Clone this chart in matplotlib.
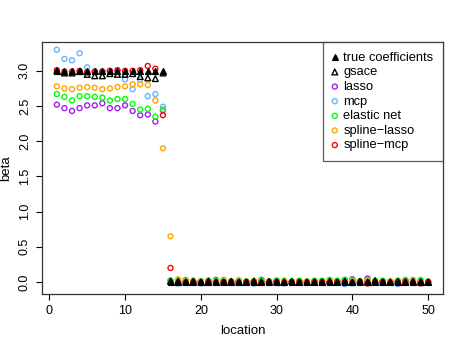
import numpy as np
import matplotlib
matplotlib.use("Agg")
import matplotlib.pyplot as plt

plt.rcParams['font.family'] = ['Liberation Sans', 'DejaVu Sans']

location = np.arange(1, 51)

true_coef = [3.0, 3.0, 3.0, 3.0, 3.0, 3.0, 3.0, 3.0, 3.0, 3.0, 3.0, 3.0, 3.0, 3.0, 3.0,
             0.0, 0.0, 0.0, 0.0, 0.0, 0.0, 0.0, 0.0, 0.0, 0.0, 0.0, 0.0, 0.0, 0.0, 0.0,
             0.0, 0.0, 0.0, 0.0, 0.0, 0.0, 0.0, 0.0, 0.0, 0.0, 0.0, 0.0, 0.0, 0.0, 0.0,
             0.0, 0.0, 0.0, 0.0, 0.0]
gsace = [3.00, 2.97, 2.97, 2.99, 2.95, 2.93, 2.93, 2.96, 2.95, 2.95, 2.96, 2.92, 2.90, 2.89, 2.97,
         0.01, 0.01, 0.00, 0.01, 0.00, 0.01, 0.00, 0.00, 0.01, 0.00, 0.00, 0.01, 0.00, 0.01, 0.00,
         0.00, 0.01, 0.00, 0.00, 0.00, 0.00, 0.01, 0.00, 0.01, 0.00, 0.01, 0.00, 0.02, 0.00, 0.00,
         0.01, 0.00, 0.01, 0.00, 0.00]
lasso = [2.52, 2.47, 2.43, 2.47, 2.51, 2.51, 2.54, 2.47, 2.47, 2.51, 2.43, 2.37, 2.38, 2.28, 2.44,
         0.02, 0.01, 0.02, 0.00, 0.01, 0.02, 0.03, 0.00, 0.01, 0.02, 0.00, 0.01, 0.03, 0.00, 0.02,
         0.01, 0.00, 0.01, 0.00, 0.01, 0.00, 0.02, 0.01, 0.03, 0.04, 0.01, 0.05, 0.00, 0.01, 0.00,
         0.01, 0.02, 0.00, 0.01, 0.00]
mcp = [3.30, 3.17, 3.15, 3.25, 3.05, 2.99, 2.99, 3.00, 3.00, 2.88, 2.74, 2.88, 2.64, 2.67, 2.49,
       0.00, -0.02, 0.00, 0.00, -0.02, 0.00, 0.00, -0.01, 0.00, 0.00, 0.00, -0.02, 0.00, 0.00, 0.00,
       -0.02, 0.00, 0.00, 0.00, 0.00, 0.00, -0.01, 0.00, -0.03, -0.02, 0.00, 0.00, 0.00, 0.00, 0.00,
       -0.03, 0.00, 0.03, 0.00, 0.00]
enet = [2.67, 2.63, 2.58, 2.64, 2.64, 2.63, 2.62, 2.58, 2.60, 2.60, 2.53, 2.45, 2.46, 2.35, 2.45,
        0.02, 0.02, 0.03, 0.02, 0.01, 0.02, 0.02, 0.03, 0.01, 0.02, 0.01, 0.02, 0.02, 0.01, 0.02,
        0.02, 0.01, 0.02, 0.01, 0.02, 0.02, 0.03, 0.02, 0.03, 0.03, 0.01, 0.03, 0.02, 0.02, 0.01,
        0.02, 0.03, 0.02, 0.03, 0.01]
spline_lasso = [2.78, 2.75, 2.74, 2.76, 2.77, 2.76, 2.74, 2.75, 2.77, 2.78, 2.81, 2.81, 2.80, 2.58, 1.90,
                0.65, 0.04, 0.01, 0.01, 0.00, 0.01, 0.00, 0.01, 0.00, 0.01, 0.00, 0.01, 0.00, 0.01, 0.00,
                0.01, 0.00, 0.00, 0.01, 0.00, 0.00, 0.01, 0.00, 0.00, 0.01, 0.00, 0.02, 0.00, 0.00, 0.01,
                0.00, 0.00, 0.02, 0.00, 0.00]
spline_mcp = [3.01, 2.99, 2.99, 3.00, 2.98, 2.99, 2.99, 3.00, 3.01, 3.00, 3.00, 3.01, 3.07, 3.03, 2.37,
              0.20, -0.01, -0.01, 0.00, -0.01, 0.00, -0.01, 0.00, 0.00, -0.01, 0.00, 0.00, -0.01, 0.00, 0.00,
              -0.01, 0.00, 0.00, -0.01, 0.00, 0.00, -0.01, 0.00, 0.00, -0.01, 0.00, -0.02, 0.00, 0.00, -0.01,
              0.00, 0.00, -0.01, -0.02, 0.00]

fig = plt.figure(figsize=(4.65, 3.46), dpi=100)
ax = fig.add_axes([42 / 465, 52 / 346, 401 / 465, 252 / 346])

circ = dict(marker='o', s=13, facecolors='none', linewidths=1.0)
ax.scatter(location, lasso, edgecolors='#A020F0', label='lasso', **circ)
ax.scatter(location, mcp, edgecolors='#63B8FF', label='mcp', **circ)
ax.scatter(location, enet, edgecolors='#00FF00', label='elastic net', **circ)
ax.scatter(location, spline_lasso, edgecolors='#FFA500', label='spline\u2212lasso', **circ)
ax.scatter(location, spline_mcp, edgecolors='#FF0000', label='spline\u2212mcp', **circ)
ax.scatter(location, gsace, marker='^', s=17, facecolors='none', edgecolors='black',
           linewidths=1.0, label='gsace')
ax.scatter(location, true_coef, marker='^', s=17, color='black', label='true coefficients')

ax.set_xlim(-0.96, 51.96)
ax.set_ylim(-0.17, 3.41)
ax.set_xticks([0, 10, 20, 30, 40, 50])
ax.set_yticks([0.0, 0.5, 1.0, 1.5, 2.0, 2.5, 3.0])
ax.set_yticklabels(['0.0', '0.5', '1.0', '1.5', '2.0', '2.5', '3.0'], rotation=90, va='center')
ax.tick_params(labelsize=9.0, length=4, width=0.8)
ax.tick_params(axis='y', pad=4)
ax.tick_params(axis='x', pad=4)
for sp in ax.spines.values():
    sp.set_linewidth(0.9)
    sp.set_color('#333333')
ax.set_xlabel('location', fontsize=9.5, labelpad=6)
ax.set_ylabel('beta', fontsize=9.5, labelpad=5)

h, l = ax.get_legend_handles_labels()
order = [6, 5, 0, 1, 2, 3, 4]
leg = ax.legend([h[i] for i in order], [l[i] for i in order], loc='upper right',
                fontsize=9.3, frameon=True, fancybox=False, borderaxespad=0,
                labelspacing=0.2, handletextpad=0.45, borderpad=0.75, handlelength=0.4)
leg.get_frame().set_edgecolor('#333333')
leg.get_frame().set_linewidth(0.9)

fig.savefig('out.png', dpi=100)
